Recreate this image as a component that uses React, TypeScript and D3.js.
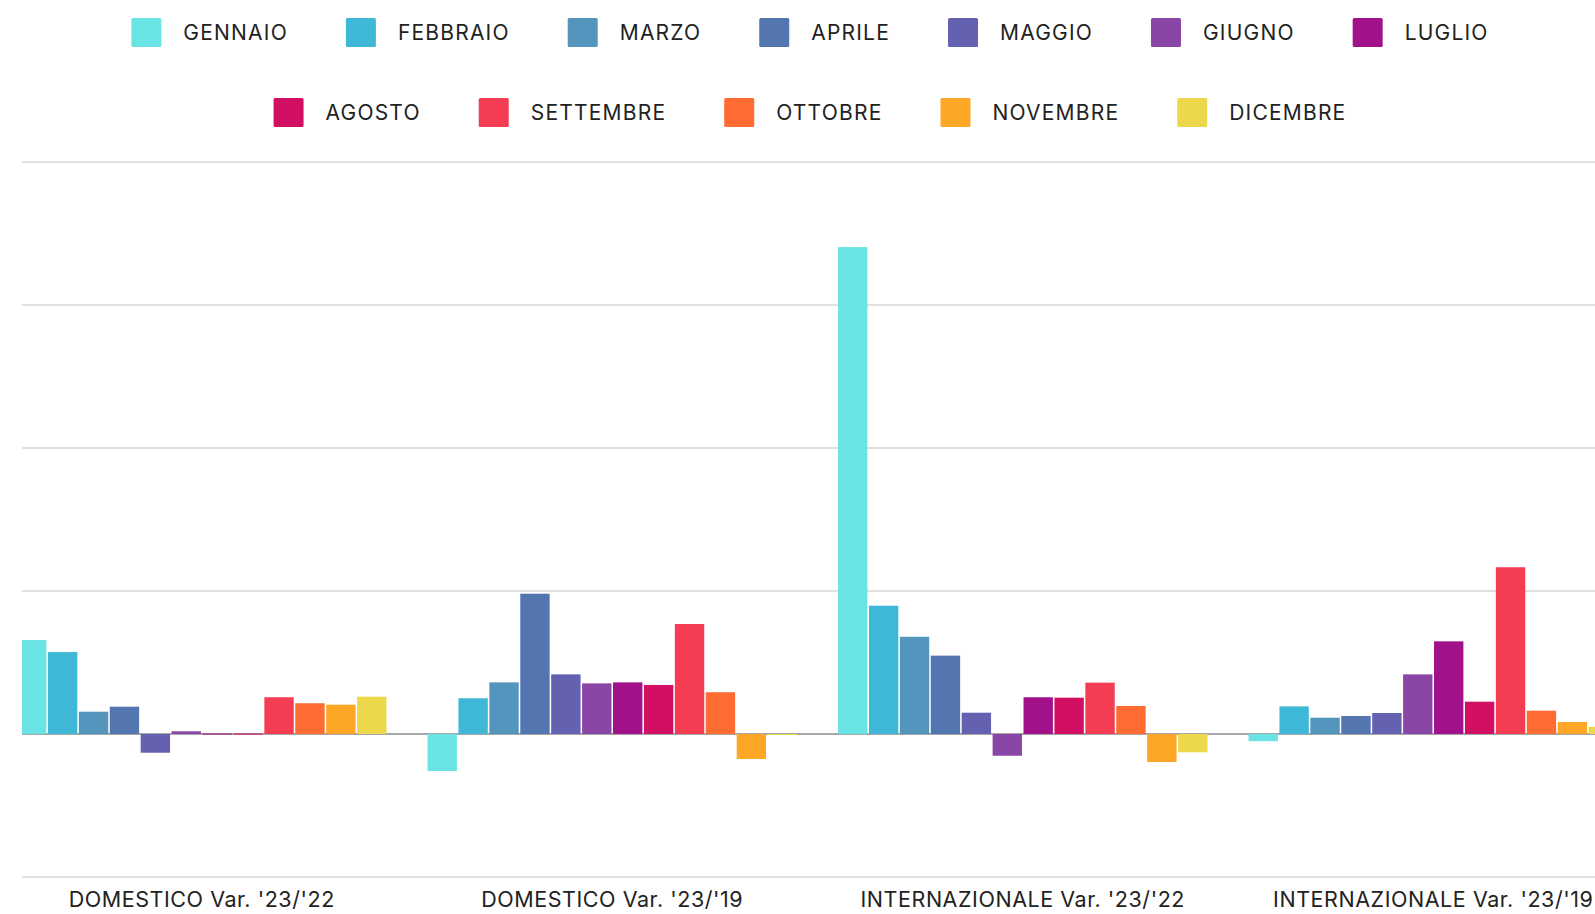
import React, { useRef, useEffect } from 'react';
import * as d3 from 'd3';

// categories on the x axis
const groups = [
  "DOMESTICO Var. '23/'22",
  "DOMESTICO Var. '23/'19",
  "INTERNAZIONALE Var. '23/'22",
  "INTERNAZIONALE Var. '23/'19",
];

const months = [
  'GENNAIO', 'FEBBRAIO', 'MARZO', 'APRILE', 'MAGGIO', 'GIUGNO',
  'LUGLIO', 'AGOSTO', 'SETTEMBRE', 'OTTOBRE', 'NOVEMBRE', 'DICEMBRE',
];

const monthColors = [
  '#6ae3e4', '#3fb7d6', '#5395bd', '#5375b0', '#6461b1', '#8946a6',
  '#a0118a', '#d20f63', '#f43c52', '#fe6b33', '#fea726', '#ecd84a',
];

// one array per group, months in order
const domestico2322 = [0.657, 0.573, 0.156, 0.191, -0.131, 0.019, 0.003, 0.003, 0.257, 0.215, 0.205, 0.261];
const domestico2319 = [-0.259, 0.25, 0.361, 0.981, 0.417, 0.354, 0.361, 0.343, 0.769, 0.292, -0.175, -0.007];
const internazionale2322 = [3.405, 0.897, 0.68, 0.548, 0.149, -0.152, 0.257, 0.254, 0.359, 0.196, -0.196, -0.128];
const internazionale2319 = [-0.05, 0.193, 0.114, 0.126, 0.147, 0.417, 0.648, 0.226, 1.166, 0.163, 0.084, 0.051];

const seriesByGroup = [domestico2322, domestico2319, internazionale2322, internazionale2319];

const yTicks = [-1, 0, 1, 2, 3, 4];

const FONT = 'Inter, "Noto Sans", sans-serif';

const App: React.FC = () => {
  const svgRef = useRef<SVGSVGElement>(null);
  const width = 1595;
  const height = 914;

  useEffect(() => {
    if (!svgRef.current) return;
    document.body.style.margin = '0';

    const svg = d3.select(svgRef.current);
    svg.selectAll('*').remove();

    const plotLeft = 22;
    const plotRight = width;

    const x0 = d3.scaleBand<string>()
      .domain(groups)
      .range([-3.5, 1638.5])
      .paddingInner(0.1)
      .paddingOuter(0.05);

    const x1 = d3.scaleBand<string>()
      .domain(months)
      .range([0, x0.bandwidth()])
      .paddingInner(0.05)
      .paddingOuter(0);

    const y = d3.scaleLinear()
      .domain([-1, 4])
      .range([877, 162]);

    svg.append('defs')
      .append('clipPath')
      .attr('id', 'plot-clip')
      .append('rect')
      .attr('x', plotLeft)
      .attr('y', 0)
      .attr('width', plotRight - plotLeft)
      .attr('height', height);

    // grid
    svg.append('g')
      .selectAll('line')
      .data(yTicks)
      .enter()
      .append('line')
      .attr('x1', plotLeft)
      .attr('x2', plotRight)
      .attr('y1', d => y(d))
      .attr('y2', d => y(d))
      .attr('stroke', d => (d === 0 ? '#8a8a8a' : '#d6d6d6'))
      .attr('stroke-width', d => (d === 0 ? 1.6 : 1.4));

    // bars
    const barLayer = svg.append('g').attr('clip-path', 'url(#plot-clip)');

    const groupG = barLayer.selectAll('.group')
      .data(groups)
      .enter()
      .append('g')
      .attr('class', 'group')
      .attr('transform', d => `translate(${x0(d)},0)`);

    groupG.selectAll('rect')
      .data((_, gi) => seriesByGroup[gi].map((v, mi) => ({ month: months[mi], v, mi })))
      .enter()
      .append('rect')
      .attr('x', d => x1(d.month) as number)
      .attr('width', x1.bandwidth())
      .attr('y', d => y(Math.max(0, d.v)))
      .attr('height', d => Math.max(1, Math.abs(y(d.v) - y(0))))
      .attr('fill', d => monthColors[d.mi]);

    // x labels
    svg.append('g')
      .selectAll('text')
      .data(groups)
      .enter()
      .append('text')
      .attr('x', d => (x0(d) as number) + x0.bandwidth() / 2)
      .attr('y', 907)
      .attr('text-anchor', 'middle')
      .style('font-family', FONT)
      .style('font-size', '21.5px')
      .style('letter-spacing', '0.55px')
      .style('fill', '#222')
      .text(d => d);

    // legend, two centred rows
    const rows = [months.slice(0, 7), months.slice(7)];
    const rowY = [33, 113];
    const centerX = 810;
    const swatch = 30;
    const textGap = 22;
    const itemGap = 58;

    rows.forEach((row, ri) => {
      const rowG = svg.append('g');
      const items = rowG.selectAll('.item')
        .data(row)
        .enter()
        .append('g')
        .attr('class', 'item');

      items.append('rect')
        .attr('width', swatch)
        .attr('height', 29)
        .attr('y', rowY[ri] - 15)
        .attr('rx', 1.5)
        .attr('fill', d => monthColors[months.indexOf(d)]);

      const labels = items.append('text')
        .attr('x', swatch + textGap)
        .attr('y', rowY[ri] + 1.5)
        .attr('dominant-baseline', 'middle')
        .style('font-family', FONT)
        .style('font-size', '21px')
        .style('letter-spacing', '1.2px')
        .style('fill', '#222')
        .text(d => d);

      const widths: number[] = [];
      labels.each(function () {
        widths.push((this as SVGTextElement).getComputedTextLength());
      });
      const itemWidths = widths.map(w => swatch + textGap + w);
      const total = d3.sum(itemWidths) + itemGap * (row.length - 1);
      let cursor = centerX - total / 2;
      items.each(function (_, i) {
        d3.select(this).attr('transform', `translate(${cursor},0)`);
        cursor += itemWidths[i] + itemGap;
      });
    });
  }, []);

  return (
    <svg
      ref={svgRef}
      width={width}
      height={height}
      style={{ display: 'block', background: '#fff' }}
      aria-label="Variazioni mensili domestico e internazionale"
    />
  );
};

export default App;
